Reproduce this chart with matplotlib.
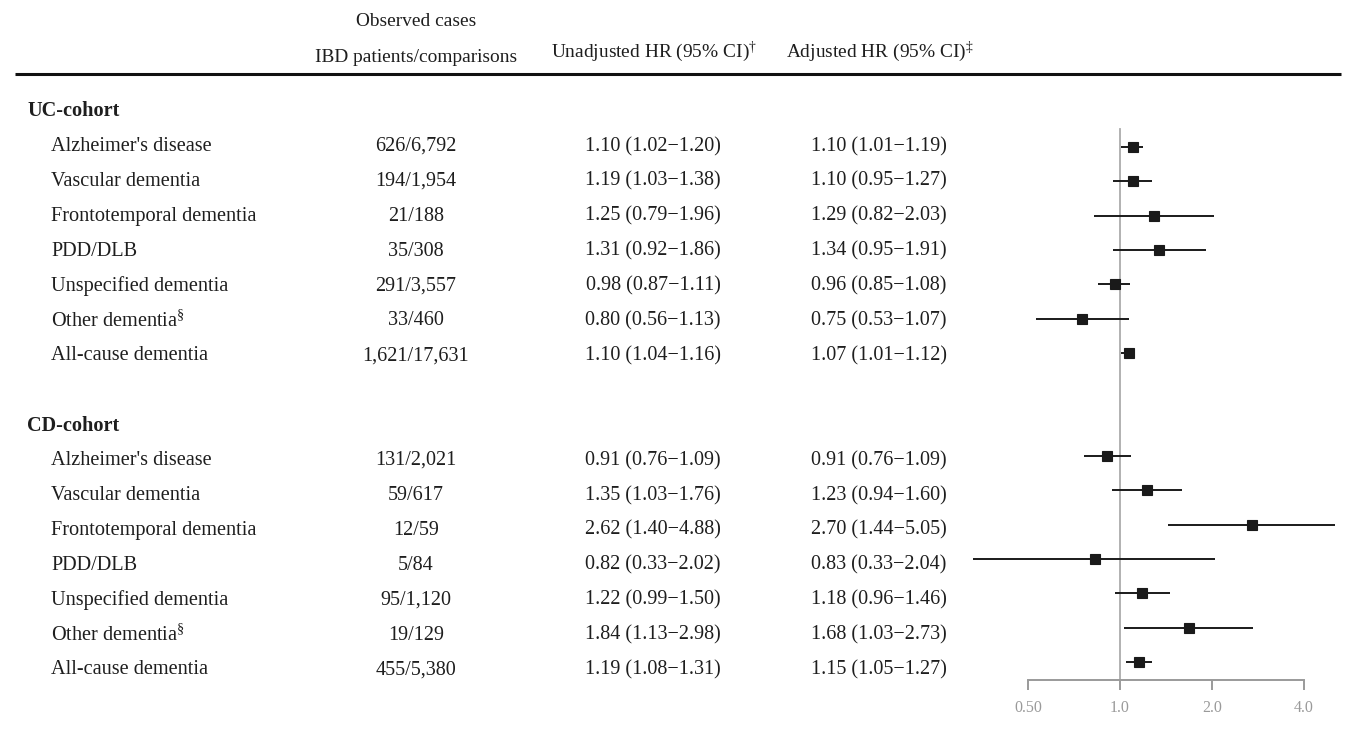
import matplotlib
matplotlib.use("Agg")
import matplotlib.pyplot as plt
import numpy as np

plt.rcParams['font.family'] = ['Liberation Serif', 'DejaVu Serif']
plt.rcParams['mathtext.fontset'] = 'custom'
plt.rcParams['mathtext.rm'] = 'Liberation Serif'
plt.rcParams['mathtext.it'] = 'Liberation Serif:italic'
plt.rcParams['mathtext.bf'] = 'Liberation Serif:bold'

categories = ["Alzheimer's disease", "Vascular dementia", "Frontotemporal dementia",
              "PDD/DLB", "Unspecified dementia", r"Other dementia$^{\S}$", "All-cause dementia"]
cohorts = ["UC-cohort", "CD-cohort"]

uc_observed = ["626/6,792", "194/1,954", "21/188", "35/308", "291/3,557", "33/460", "1,621/17,631"]
uc_unadj_hr = [1.10, 1.19, 1.25, 1.31, 0.98, 0.80, 1.10]
uc_unadj_lo = [1.02, 1.03, 0.79, 0.92, 0.87, 0.56, 1.04]
uc_unadj_hi = [1.20, 1.38, 1.96, 1.86, 1.11, 1.13, 1.16]
uc_adj_hr = [1.10, 1.10, 1.29, 1.34, 0.96, 0.75, 1.07]
uc_adj_lo = [1.01, 0.95, 0.82, 0.95, 0.85, 0.53, 1.01]
uc_adj_hi = [1.19, 1.27, 2.03, 1.91, 1.08, 1.07, 1.12]

cd_observed = ["131/2,021", "59/617", "12/59", "5/84", "95/1,120", "19/129", "455/5,380"]
cd_unadj_hr = [0.91, 1.35, 2.62, 0.82, 1.22, 1.84, 1.19]
cd_unadj_lo = [0.76, 1.03, 1.40, 0.33, 0.99, 1.13, 1.08]
cd_unadj_hi = [1.09, 1.76, 4.88, 2.02, 1.50, 2.98, 1.31]
cd_adj_hr = [0.91, 1.23, 2.70, 0.83, 1.18, 1.68, 1.15]
cd_adj_lo = [0.76, 0.94, 1.44, 0.33, 0.96, 1.03, 1.05]
cd_adj_hi = [1.09, 1.60, 5.05, 2.04, 1.46, 2.73, 1.27]

tick_values = [0.5, 1.0, 2.0, 4.0]
tick_labels = ["0.50", "1.0", "2.0", "4.0"]

W, H = 1346, 733
fig = plt.figure(figsize=(W / 100, H / 100), dpi=100)
renderer = fig.canvas.get_renderer()

def fit_size(s, target_px, weight='normal'):
    t = fig.text(0, 0, s, fontsize=10, fontweight=weight)
    w = t.get_window_extent(renderer=renderer).width
    t.remove()
    return 10 * target_px / w

def fmt(h, l, u):
    return f"{h:.2f} ({l:.2f}\u2212{u:.2f})"

fs_lab = fit_size("Alzheimer's disease", 161)
fs_num = fit_size(fmt(1.10, 1.02, 1.20), 135)
fs_head = fit_size("IBD patients/comparisons", 202)
fs_bold = fit_size("UC-cohort", 92, 'bold')

# ---- text table axes
tx = fig.add_axes([0, 0, 1, 1])
tx.set_xlim(0, W)
t0, ts = 111.5, 34.9
tx.set_ylim((H - t0) / ts, -t0 / ts)
tx.axis('off')

tc = '#1e1e1e'
def ty(px):
    return (px - t0) / ts

col_obs, col_un, col_ad = 416, 653, 879
tx.text(col_obs, ty(21), "Observed cases", ha='center', va='center', fontsize=fs_head, color=tc)
tx.text(col_obs, ty(57), "IBD patients/comparisons", ha='center', va='center', fontsize=fs_head, color=tc)
tx.text(654, ty(52), r"Unadjusted HR (95% CI)$^{\dagger}$", ha='center', va='center', fontsize=fs_head, color=tc)
tx.text(880, ty(52), r"Adjusted HR (95% CI)$^{\ddagger}$", ha='center', va='center', fontsize=fs_head, color=tc)
tx.plot([15, 1341], [ty(74), ty(74)], color='#111111', lw=2.2, solid_capstyle='butt')

groups = [
    (uc_observed, uc_unadj_hr, uc_unadj_lo, uc_unadj_hi, uc_adj_hr, uc_adj_lo, uc_adj_hi),
    (cd_observed, cd_unadj_hr, cd_unadj_lo, cd_unadj_hi, cd_adj_hr, cd_adj_lo, cd_adj_hi),
]

# ---- forest axes
f0, fsp = 112.7, 34.33
left_px, right_px = 960, 1346
def val_at(px):
    return 2 ** ((px - 1120) / 92.0)
fx = fig.add_axes([left_px / W, 0, (right_px - left_px) / W, 1])
fx.set_xscale('log', base=2)
fx.set_xlim(val_at(left_px), val_at(right_px))
fx.set_ylim((H - f0) / fsp, -f0 / fsp)
fx.patch.set_alpha(0)
for s in ['top', 'right', 'left']:
    fx.spines[s].set_visible(False)
axis_row = (680 - f0) / fsp
fx.spines['bottom'].set_position(('data', axis_row))
fx.spines['bottom'].set_bounds(tick_values[0], tick_values[-1])
fx.spines['bottom'].set_color('#9a9a9a')
fx.spines['bottom'].set_linewidth(1.4)
fx.set_xticks(tick_values)
fx.set_xticklabels(tick_labels)
fx.xaxis.set_minor_locator(matplotlib.ticker.NullLocator())
fx.tick_params(axis='x', direction='out', length=7.2, width=1.4, color='#9a9a9a',
               labelcolor='#9a9a9a', labelsize=11.5, pad=7.5)
fx.set_yticks([])
fx.plot([1, 1], [(129 - f0) / fsp, axis_row], color='#ababab', lw=1.3, zorder=1)

row = 0
for ci, (cname, g) in enumerate(zip(cohorts, groups)):
    obs, uh, ul, uu, ah, al, au = g
    tx.text(27, row, cname, ha='left', va='center', fontsize=fs_bold, fontweight='bold', color=tc)
    for k, cat in enumerate(categories):
        r = row + 1 + k
        tx.text(51, r, cat, ha='left', va='center', fontsize=fs_lab, color=tc)
        tx.text(col_obs, r, obs[k], ha='center', va='center', fontsize=fs_num, color=tc)
        tx.text(col_un, r, fmt(uh[k], ul[k], uu[k]), ha='center', va='center', fontsize=fs_num, color=tc)
        tx.text(col_ad, r, fmt(ah[k], al[k], au[k]), ha='center', va='center', fontsize=fs_num, color=tc)
        fx.plot([al[k], au[k]], [r, r], color='#1a1a1a', lw=1.4, zorder=2, solid_capstyle='butt')
        fx.plot([ah[k]], [r], marker='s', markersize=6.6, markeredgewidth=0.8, color='#1a1a1a', zorder=3)
    row += len(categories) + 2

fig.savefig("out.png", dpi=100)
